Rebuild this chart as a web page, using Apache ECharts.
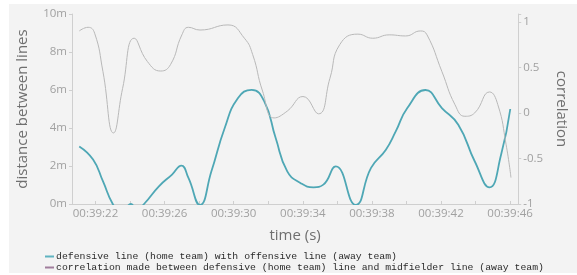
<!DOCTYPE html>
<html>
<head>
<meta charset="utf-8">
<script src="https://cdn.jsdelivr.net/npm/echarts@6/dist/echarts.min.js"></script>
<style>
  html, body { margin: 0; padding: 0; background: #ffffff; }
  .panel { position: absolute; left: 9px; top: 4px; width: 568px; height: 269px; background: #f3f3f3; }
  #chart { position: absolute; left: 0; top: 0; width: 577px; height: 275px; }
</style>
</head>
<body>
<div class="panel"></div>
<div id="chart"></div>
<script>
// seconds after 00:39:00
const distTimes = [21.06, 21.86, 22.43, 23.0, 23.5, 24.05, 24.4, 24.81, 25.67, 26.43, 26.97, 27.38, 28.05,
  28.71, 29.48, 30.24, 31.04, 31.77, 32.43, 33.1, 33.86, 34.62, 35.19, 35.91, 37.06, 37.95, 38.81,
  39.38, 40.05, 41.1, 42.05, 43.0, 43.95, 44.81, 45.48, 46.01]
const distValues = [3.03, 2.34, 1.2, 0, -0.5, 0, -0.3, 0, 0.93, 1.55, 2.02, 1.37, -0.05,
  1.72, 4.0, 5.57, 6.01, 5.4, 3.47, 1.72, 1.11, 0.88, 1.02, 1.98, -0.05, 1.9, 2.86,
  3.82, 5.05, 6.0, 5.05, 4.17, 2.25, 0.88, 2.6, 5.0]

const corrTimes = [21.06, 21.57, 21.95, 22.43, 23.04, 23.57, 24.24, 25.0, 25.77, 26.34, 27.0, 27.38, 28.05,
  29.67, 30.62, 31.1, 31.67, 32.34, 33.1, 34.01, 34.91, 35.57, 36.14, 37.19, 38.05, 39.0, 39.95,
  40.81, 41.19, 42.05, 42.81, 43.38, 43.95, 44.81, 45.29, 45.77, 46.05]
const corrValues = [0.90, 0.94, 0.875, 0.455, -0.22, 0.27, 0.82, 0.565, 0.46, 0.53, 0.857, 0.94, 0.91,
  0.966, 0.82, 0.64, 0.24, -0.055, 0.02, 0.18, -0.01, 0.38, 0.75, 0.865, 0.82, 0.857, 0.845,
  0.90, 0.857, 0.455, 0.09, -0.037, 0.0, 0.23, 0.09, -0.35, -0.71]

const timeLabels = [22, 26, 30, 34, 38, 42, 46]
const timeTicks = [22, 24, 26, 28, 30, 32, 34, 36, 38, 40, 42, 44, 46]
const corrLabels = [-1, -0.5, 0, 0.5, 1]

const distName = 'defensive line (home team) with offensive line (away team)'
const corrName = 'correlation made between defensive (home team) line and midfielder line (away team)'

const labelColor = '#a0a0a0'
const axisColor = '#cfcfcf'
const titleStyle = { color: '#6f6f6f', fontSize: 15, fontFamily: 'Open Sans' }

const chart = echarts.init(document.getElementById('chart'))
chart.setOption({
  backgroundColor: 'transparent',
  animation: false,
  grid: { left: 72, right: 53, top: 14, bottom: 71 },
  legend: {
    orient: 'vertical',
    left: 45,
    top: 251,
    height: 24,
    padding: 0,
    itemWidth: 9,
    itemHeight: 2,
    itemGap: 0,
    icon: 'rect',
    textStyle: { fontFamily: 'Liberation Mono', fontSize: 9.8, lineHeight: 11, color: '#2a2a2a', padding: [0, 0, 0, -3] },
    data: [
      { name: distName, itemStyle: { color: '#5fb3c0' } },
      { name: corrName, itemStyle: { color: '#a07d9c' } }
    ]
  },
  xAxis: {
    type: 'value',
    min: 20.64,
    max: 46.47,
    name: 'time (s)',
    nameLocation: 'middle',
    nameGap: 24,
    nameTextStyle: titleStyle,
    splitLine: { show: false },
    axisLine: { lineStyle: { color: axisColor } },
    axisTick: { inside: true, length: 3, lineStyle: { color: axisColor }, customValues: timeTicks },
    axisLabel: {
      customValues: timeLabels,
      color: labelColor,
      fontSize: 11.5,
      fontFamily: 'Open Sans',
      margin: 4,
      formatter: v => '00:39:' + String(v).padStart(2, '0')
    }
  },
  yAxis: [
    {
      type: 'value',
      min: 0,
      max: 10,
      interval: 2,
      name: 'distance between lines',
      nameLocation: 'middle',
      nameGap: 42,
      nameTextStyle: titleStyle,
      splitLine: { show: false },
      axisLine: { show: true, lineStyle: { color: axisColor } },
      axisTick: { show: true, length: 3, lineStyle: { color: axisColor } },
      axisLabel: { color: labelColor, fontSize: 11.5, fontFamily: 'Open Sans', margin: 5, formatter: '{value}m' }
    },
    {
      type: 'value',
      position: 'right',
      min: -1,
      max: 1.086,
      interval: 0.5,
      name: 'correlation',
      nameLocation: 'middle',
      nameGap: 24,
      nameRotate: -90,
      nameTextStyle: titleStyle,
      splitLine: { show: false },
      axisLine: { show: true, lineStyle: { color: axisColor } },
      axisTick: { show: true, length: 3, lineStyle: { color: axisColor } },
      axisLabel: {
        color: labelColor, fontSize: 11.5, fontFamily: 'Open Sans', margin: 5,
        formatter: v => corrLabels.includes(v) ? String(v) : ''
      }
    }
  ],
  series: [
    {
      name: distName,
      type: 'line',
      yAxisIndex: 0,
      smooth: 0.5,
      showSymbol: false,
      clip: true,
      lineStyle: { color: '#4ea7b5', width: 1.8 },
      itemStyle: { color: '#4ea7b5' },
      data: distTimes.map((t, i) => [t, distValues[i]])
    },
    {
      name: corrName,
      type: 'line',
      yAxisIndex: 1,
      smooth: 0.5,
      showSymbol: false,
      clip: true,
      lineStyle: { color: '#b8b8b8', width: 1 },
      itemStyle: { color: '#b8b8b8' },
      data: corrTimes.map((t, i) => [t, corrValues[i]])
    }
  ]
})
</script>
</body>
</html>
